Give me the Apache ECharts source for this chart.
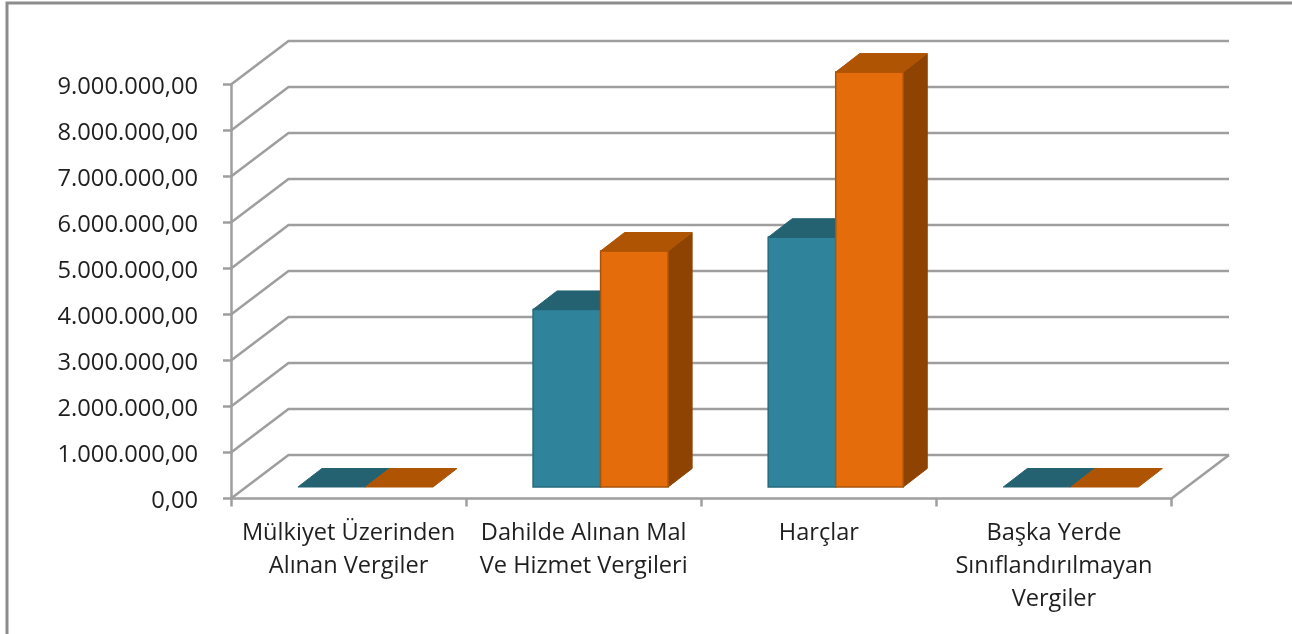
<!DOCTYPE html>
<html><head><meta charset="utf-8">
<style>html,body{margin:0;padding:0;background:#fff}#c{width:1292px;height:634px}</style>
<script src="https://cdn.jsdelivr.net/npm/echarts@6/dist/echarts.min.js"></script>
</head><body><div id="c"></div>
<script>
const categories = ["Mülkiyet Üzerinden\nAlınan Vergiler", "Dahilde Alınan Mal\nVe Hizmet Vergileri", "Harçlar", "Başka Yerde\nSınıflandırılmayan\nVergiler"];
const seriesA = [0, 3860000, 5430000, 0];
const seriesB = [0, 5130000, 9020000, 0];
const gridValues = [0, 1000000, 2000000, 3000000, 4000000, 5000000, 6000000, 7000000, 8000000, 9000000];

const WALL_DX = 57.5, WALL_DY = 43.5, BAR_DX = 24, BAR_DY = 18.5;
const BAR_RATIO = 0.2872, SHIFT_X = 16.9, SHIFT_Y = 11.5;
const WALL = '#9e9e9e';

function fmt(v) {
  const s = String(Math.round(v)).replace(/\B(?=(\d{3})+$)/g, '.');
  return '{n|' + s + ',00}';
}
function barItem(side, col) {
  return function (params, api) {
    const i = api.value(0), v = api.value(1);
    const top = api.coord([i, v]), base = api.coord([i, 0]);
    const w = api.size([1, 0])[0] * BAR_RATIO;
    const x0 = base[0] + SHIFT_X + (side === 0 ? -w : 0), x1 = x0 + w;
    const yb = base[1] - SHIFT_Y, yt = top[1] - SHIFT_Y;
    const children = [];
    if (yb - yt > 0.5) {
      children.push({ type: 'polygon', shape: { points: [[x1, yt], [x1 + BAR_DX, yt - BAR_DY], [x1 + BAR_DX, yb - BAR_DY], [x1, yb]] },
        style: { fill: col.side, stroke: col.side, lineWidth: 1 } });
      children.push({ type: 'rect', shape: { x: x0, y: yt, width: w, height: yb - yt },
        style: { fill: col.front, stroke: col.edge, lineWidth: 1.5 } });
    }
    children.push({ type: 'polygon', shape: { points: [[x0, yt], [x0 + BAR_DX, yt - BAR_DY], [x1 + BAR_DX, yt - BAR_DY], [x1, yt]] },
      style: { fill: col.top, stroke: col.top, lineWidth: 1 } });
    return { type: 'group', children };
  };
}
function wallItem(params, api) {
  const v = api.value(0);
  const l = api.coord([0, v]);
  const cs = params.coordSys;
  const x0 = cs.x, x1 = cs.x + cs.width;
  const children = [{ type: 'polyline', shape: { points: [[x0, l[1]], [x0 + WALL_DX, l[1] - WALL_DY], [x1 + WALL_DX, l[1] - WALL_DY]] },
    style: { fill: 'none', stroke: WALL, lineWidth: 2.5 } }];
  if (v === 0) {
    children.push({ type: 'line', shape: { x1: x1, y1: l[1], x2: x1 + WALL_DX, y2: l[1] - WALL_DY },
      style: { stroke: WALL, lineWidth: 2.5 } });
  }
  return { type: 'group', children };
}
const teal = { front: '#2f849c', edge: '#26697d', top: '#246272', side: '#1f5564' };
const orange = { front: '#e46c0a', edge: '#a9540c', top: '#ae5403', side: '#8f4302' };

const chart = echarts.init(document.getElementById('c'), null, { renderer: 'canvas' });
chart.setOption({
  animation: false,
  backgroundColor: '#fff',
  textStyle: { fontFamily: '"Open Sans"' },
  graphic: [{ type: 'rect', silent: true, z: 100, shape: { x: 7, y: 3, width: 1400, height: 800 },
    style: { fill: 'none', stroke: '#8c8c8c', lineWidth: 3 } }],
  grid: { left: 231, right: 120.5, top: 84.5, height: 414, containLabel: false },
  xAxis: { type: 'category', data: categories, boundaryGap: true,
    axisLine: { show: true, lineStyle: { color: WALL, width: 2.5 } },
    axisTick: { show: true, length: 8, lineStyle: { color: WALL, width: 2.5 } },
    splitLine: { show: false },
    axisLabel: { interval: 0, color: '#1f1f1f', fontSize: 23.6, lineHeight: 33, margin: 18, fontFamily: '"Open Sans"' } },
  yAxis: { type: 'value', min: 0, max: 9000000, interval: 1000000,
    axisLine: { show: true, lineStyle: { color: WALL, width: 2.5 } },
    axisTick: { show: true, length: 8, lineStyle: { color: WALL, width: 2.5 } },
    splitLine: { show: false },
    axisLabel: { color: '#1f1f1f', fontSize: 23.7, margin: 33, formatter: fmt,
      rich: { n: { color: '#1f1f1f', fontSize: 23.7, fontFamily: '"Open Sans"', padding: [6, 0, 0, 0] } }, fontFamily: '"Open Sans"' } },
  series: [
    { type: 'custom', name: 'Duvar', renderItem: wallItem, data: gridValues.map(v => [v]), encode: { y: 0 }, z: 1, silent: true },
    { type: 'custom', name: 'Seri 1', renderItem: barItem(0, teal), data: seriesA.map((v, i) => [i, v]), encode: { x: 0, y: 1 }, z: 3 },
    { type: 'custom', name: 'Seri 2', renderItem: barItem(1, orange), data: seriesB.map((v, i) => [i, v]), encode: { x: 0, y: 1 }, z: 4 }
  ]
});
</script></body></html>
